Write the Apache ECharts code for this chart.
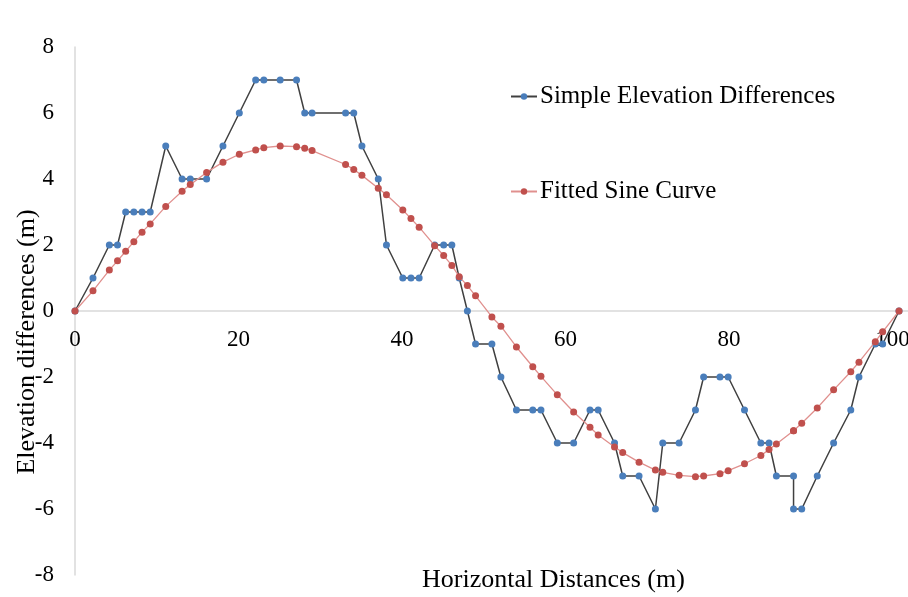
<!DOCTYPE html>
<html>
<head>
<meta charset="utf-8">
<script src="https://cdn.jsdelivr.net/npm/echarts@6/dist/echarts.min.js"></script>
<style>
  html, body { margin: 0; padding: 0; background: #fff; }
  #chart { width: 908px; height: 597px; }
</style>
</head>
<body>
<div id="chart"></div>
<script>
// Horizontal distance of each survey station (m)
const distances = [0, 2.2, 4.2, 5.2, 6.2, 7.2, 8.2, 9.2, 11.1, 13.1, 14.1, 16.1, 18.1, 20.1, 22.1, 23.1, 25.1, 27.1, 28.1, 29.0,
  33.1, 34.1, 35.1, 37.1, 38.1, 40.1, 41.1, 42.1, 44.0, 45.1, 46.1, 47.0, 48.0, 49.0, 51.0, 52.1, 54.0, 56.0, 57.0, 59.0,
  61.0, 63.0, 64.0, 66.0, 67.0, 69.0, 71.0, 71.9, 73.9, 75.9, 76.9, 78.9, 79.9, 81.9, 83.9, 84.9, 85.8, 87.9, 87.9, 88.9,
  90.8, 92.8, 94.9, 95.9, 97.9, 98.8, 100.8];

// Measured elevation differences (m)
const simpleDiff = [0, 1, 2, 2, 3, 3, 3, 3, 5, 4, 4, 4, 5, 6, 7, 7, 7, 7, 6, 6,
  6, 6, 5, 4, 2, 1, 1, 1, 2, 2, 2, 1, 0, -1, -1, -2, -3, -3, -3, -4,
  -4, -3, -3, -4, -5, -5, -6, -4, -4, -3, -2, -2, -2, -3, -4, -4, -5, -5, -6, -6,
  -5, -4, -3, -2, -1, -1, 0];

// Sine curve fitted to the measurements (m)
const fittedSine = [0, 0.61, 1.24, 1.52, 1.81, 2.10, 2.39, 2.64, 3.17, 3.63, 3.83, 4.20, 4.51, 4.75, 4.88, 4.95, 5.00, 4.98, 4.93, 4.86,
  4.44, 4.29, 4.11, 3.72, 3.52, 3.06, 2.80, 2.54, 1.98, 1.68, 1.38, 1.04, 0.77, 0.46, -0.18, -0.46, -1.09, -1.69, -1.98, -2.54,
  -3.06, -3.52, -3.76, -4.12, -4.29, -4.58, -4.82, -4.89, -4.98, -5.02, -5.00, -4.93, -4.84, -4.63, -4.38, -4.20, -4.03, -3.63, -3.63, -3.40,
  -2.94, -2.39, -1.84, -1.55, -0.93, -0.63, 0];

const xTicks = [0, 20, 40, 60, 80, 100];
const seriesNames = ['Simple Elevation Differences', 'Fitted Sine Curve'];

const FONT = '"Liberation Serif", "Times New Roman", serif';
const AXIS_GRAY = '#D9D9D9';

// plot box
const GRID_TOP = 47, GRID_BOTTOM = 22, CHART_H = 597;
const Y_MIN = -8, Y_MAX = 8;
const gridH = CHART_H - GRID_TOP - GRID_BOTTOM;
// shift the horizontal axis (line + labels) up to the y = 0 level
const xAxisShift = -gridH * (0 - Y_MIN) / (Y_MAX - Y_MIN);

const chart = echarts.init(document.getElementById('chart'), null, { renderer: 'canvas' });

const pairs = (ys) => distances.map((d, i) => [d, ys[i]]);

const legendBase = {
  left: 510, padding: 0,
  itemWidth: 26, itemHeight: 8, itemGap: 2,
  textStyle: { fontFamily: FONT, fontSize: 25, color: '#000', padding: [0, 0, 0, -2] }
};

chart.setOption({
  animation: false,
  backgroundColor: '#ffffff',
  grid: { left: 75, right: 0, top: GRID_TOP, bottom: GRID_BOTTOM, containLabel: false, outerBoundsMode: 'none' },
  xAxis: {
    type: 'value',
    min: 0,
    max: 101.9,
    interval: 20,
    position: 'bottom',
    offset: xAxisShift,
    axisLine: { show: true, onZero: false, lineStyle: { color: AXIS_GRAY, width: 1.5 } },
    axisTick: { show: false },
    splitLine: { show: false },
    axisLabel: {
      margin: 17,
      fontFamily: FONT,
      fontSize: 23,
      color: '#000',
      hideOverlap: false,
      formatter: (v) => (xTicks.indexOf(Math.round(v * 1000) / 1000) >= 0 ? String(v) : '')
    }
  },
  yAxis: {
    type: 'value',
    min: Y_MIN,
    max: Y_MAX,
    interval: 2,
    axisLine: { show: true, onZero: false, lineStyle: { color: AXIS_GRAY, width: 1.5 } },
    axisTick: { show: false },
    splitLine: { show: false },
    axisLabel: { margin: 21, fontFamily: FONT, fontSize: 23, color: '#000', hideOverlap: false }
  },
  legend: [
    Object.assign({ data: [seriesNames[0]], top: 84 }, legendBase),
    Object.assign({ data: [seriesNames[1]], top: 179 }, legendBase)
  ],
  graphic: [
    {
      type: 'text',
      left: 422, top: 567,
      style: { text: 'Horizontal Distances (m)', fontFamily: FONT, fontSize: 26, fill: '#000' },
      z: 10
    },
    {
      type: 'text',
      x: 27, y: 342,
      rotation: Math.PI / 2,
      style: {
        text: 'Elevation differences (m)', fontFamily: FONT, fontSize: 26, fill: '#000',
        align: 'center', verticalAlign: 'middle'
      },
      z: 10
    }
  ],
  series: [
    {
      name: seriesNames[0],
      type: 'line',
      data: pairs(simpleDiff),
      symbol: 'circle',
      symbolSize: 7,
      showAllSymbol: true,
      itemStyle: { color: '#4A7EBB' },
      lineStyle: { color: '#404040', width: 1.5 },
      z: 2
    },
    {
      name: seriesNames[1],
      type: 'line',
      data: pairs(fittedSine),
      symbol: 'circle',
      symbolSize: 7,
      showAllSymbol: true,
      itemStyle: { color: '#C0504D' },
      lineStyle: { color: '#E0908E', width: 1.3 },
      z: 3
    }
  ]
});
</script>
</body>
</html>
